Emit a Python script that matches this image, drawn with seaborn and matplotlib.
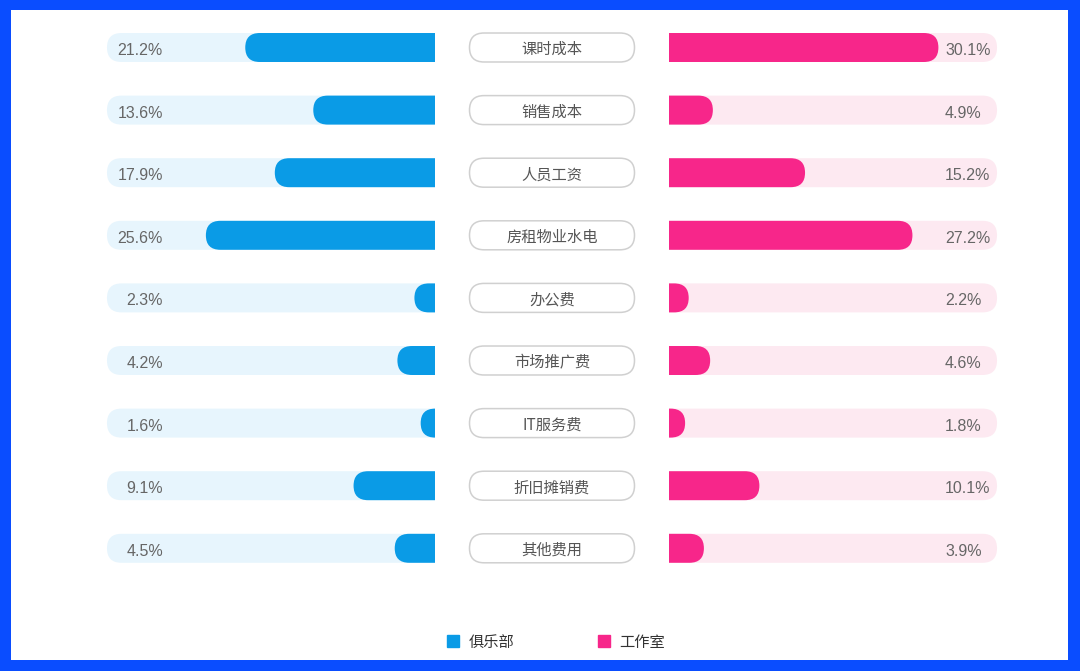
import numpy as np
import pandas as pd
import seaborn as sns
import matplotlib.pyplot as plt
from matplotlib.patches import FancyBboxPatch, Rectangle
from matplotlib.lines import Line2D

sns.set_style("white")
plt.rcParams['font.family'] = ['Noto Sans CJK SC', 'DejaVu Sans']

# data
categories = ["课时成本", "销售成本", "人员工资", "房租物业水电", "办公费",
              "市场推广费", "IT服务费", "折旧摊销费", "其他费用"]
club = [21.2, 13.6, 17.9, 25.6, 2.3, 4.2, 1.6, 9.1, 4.5]      # 俱乐部
studio = [30.1, 4.9, 15.2, 27.2, 2.2, 4.6, 1.8, 10.1, 3.9]    # 工作室
legend_names = ["俱乐部", "工作室"]

BLUE = "#0A9BE6"
BLUE_BG = "#E7F5FD"
PINK = "#F7268A"
PINK_BG = "#FDE9F1"
FRAME = "#0A4DFF"
GREY = "#666666"

W, H = 1080, 671
fig = plt.figure(figsize=(W / 100, H / 100), dpi=100)
fig.patch.set_facecolor(FRAME)
fig.add_artist(Rectangle((11 / W, 11 / H), (1068 - 11) / W, (660 - 10) / H,
                         transform=fig.transFigure, facecolor="white",
                         edgecolor="none", zorder=-10))

# layout in pixels
row0, row_gap = 47.5, 62.6
n = len(categories)
ax_top = row0 - row_gap / 2
ax_h = row_gap * n
ax_bottom = H - (ax_top + ax_h)
px_per_pct = 8.95
xmax = 38
track = 36.65
ax_w = xmax * px_per_pct
bar_w = 0.463
txt_dy = 3 / row_gap   # text sits a little below the bar centre

def rounded(ax, x0, x1, y, h, color, z=1):
    # round end pill in data coords, radius = half bar height in pixels
    ry = h / 2
    rx = (ry * row_gap) / px_per_pct
    box = FancyBboxPatch((x0, y - h / 2), x1 - x0, h,
                         boxstyle=f"round,pad=0,rounding_size={rx * 0.999}",
                         mutation_aspect=ry / rx, facecolor=color,
                         edgecolor="none", zorder=z)
    ax.add_patch(box)

axL = fig.add_axes([(435 - ax_w) / W, ax_bottom / H, ax_w / W, ax_h / H])
axR = fig.add_axes([669 / W, ax_bottom / H, ax_w / W, ax_h / H])
axC = fig.add_axes([450 / W, ax_bottom / H, 204 / W, ax_h / H])

df = pd.DataFrame({"cat": categories, "club": club, "studio": studio})

for ax, col, c, bg, side in [(axL, "club", BLUE, BLUE_BG, "L"),
                             (axR, "studio", PINK, PINK_BG, "R")]:
    sns.barplot(data=df, x=col, y="cat", orient="h", ax=ax, color=c,
                width=bar_w, saturation=1)
    bars = list(ax.patches)
    for p, v in zip(bars, df[col]):
        y = p.get_y() + p.get_height() / 2
        h = p.get_height()
        p.remove()
        rounded(ax, -3, track, y, h, bg, z=1)
        rounded(ax, -3, v, y, h, c, z=2)
        if side == "L":
            ax.text((435 - 163) / px_per_pct, y + txt_dy, f"{v:.1f}%", ha="right",
                    va="center", fontsize=11.5, color=GREY, zorder=3,
                    family="Liberation Sans")
        else:
            ax.text((945 - 669) / px_per_pct, y + txt_dy, f"{v:.1f}%", ha="left",
                    va="center", fontsize=11.5, color=GREY, zorder=3,
                    family="Liberation Sans")
    ax.set_xlim(xmax, 0) if side == "L" else ax.set_xlim(0, xmax)
    ax.set_ylim(n - 0.5, -0.5)
    ax.set_axis_off()

# centre category boxes, x in pixels
for i, cat in enumerate(categories):
    h = bar_w
    ry = h / 2
    rx = ry * row_gap
    axC.add_patch(FancyBboxPatch((19.5, i - h / 2), 165, h,
                                 boxstyle=f"round,pad=0,rounding_size={rx * 0.999}",
                                 mutation_aspect=ry / rx, facecolor="white",
                                 edgecolor="#D0D0D0", linewidth=1.1))
    axC.text(102, i + txt_dy * 0.7, cat, ha="center", va="center", fontsize=11,
             color="#555555")
axC.set_xlim(0, 204)
axC.set_ylim(n - 0.5, -0.5)
axC.set_axis_off()

handles = [Line2D([], [], marker="s", linestyle="", markersize=8, color=BLUE),
           Line2D([], [], marker="s", linestyle="", markersize=8, color=PINK)]
fig.legend(handles, legend_names, loc="center", ncol=2,
           bbox_to_anchor=(556 / W, (H - 642) / H), frameon=False,
           fontsize=11, handlelength=0.8, handletextpad=0.6,
           columnspacing=5.5, labelcolor="#333333")

fig.savefig("out.png", dpi=100, facecolor=FRAME)
